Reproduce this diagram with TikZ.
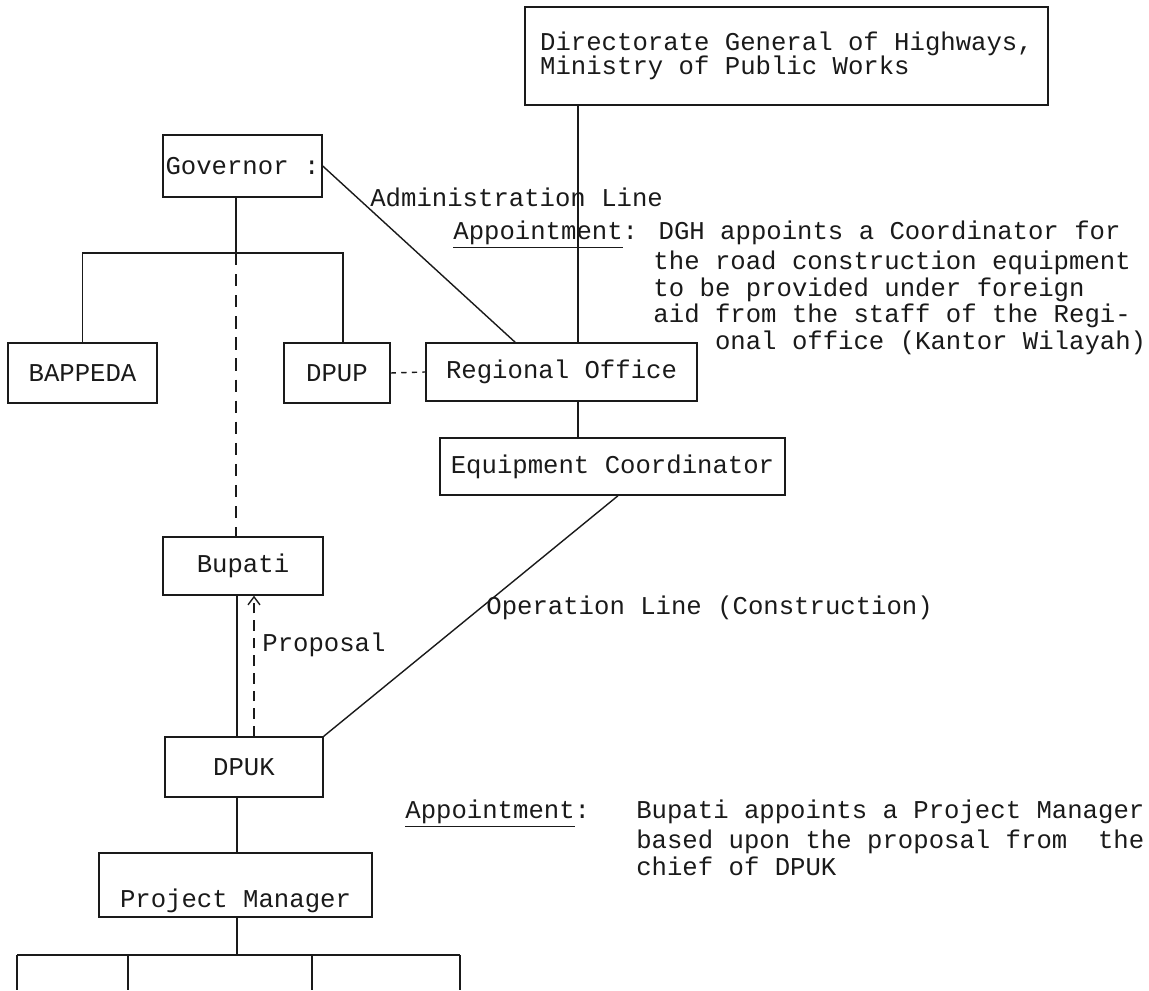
\documentclass[tikz,border=0pt]{standalone}
\usepackage{fontspec}
\newfontfamily\hwyType{Liberation Mono}
\usetikzlibrary{arrows.meta,positioning,calc}
\definecolor{hwyInk}{HTML}{1A1A1A}
\tikzset{
  hwyBox/.style={
    draw=hwyInk,
    line width=0.8pt,
    align=center,
    inner sep=2pt,
    text=hwyInk,
    font=\hwyType\fontsize{14.6}{15.3}\selectfont
  },
  hwyLine/.style={
    draw=hwyInk,
    line width=0.8pt
  },
  hwyDashed/.style={
    hwyLine,
    dash pattern=on 7pt off 5pt
  },
  hwyDotted/.style={
    hwyLine,
    dash pattern=on 3pt off 3pt
  },
  hwyArrow/.style={
    hwyLine,
    dash pattern=on 6pt off 4pt,
    -{Straight Barb[length=1.6mm,width=2.4mm]}
  },
  hwyLabel/.style={
    font=\hwyType\fontsize{14.6}{15.3}\selectfont,
    text=hwyInk,
    inner sep=0pt
  },
  hwyNote/.style={
    hwyLabel,
    align=left
  }
}

\begin{document}
\begin{tikzpicture}[x=1cm,y=1cm]
\useasboundingbox (0,0) rectangle (22.98,19.8);

% Boxes of the two hierarchies.
\node[hwyBox, align=left, minimum width=10.46cm, minimum height=1.96cm,
      font=\hwyType\fontsize{14.6}{13.7}\selectfont] (dgh) at (15.73,18.68)
  {Directorate General of Highways,\\Ministry of Public Works};

\node[hwyBox, minimum width=3.18cm, minimum height=1.24cm, inner xsep=1pt] (gov) at (4.85,16.48)
  {Governor :};
\node[hwyBox, minimum width=2.98cm, minimum height=1.2cm] (bappeda) at (1.65,12.34) {BAPPEDA};
\node[hwyBox, minimum width=2.12cm, minimum height=1.2cm] (dpup) at (6.74,12.34) {DPUP};
\node[hwyBox, minimum width=5.42cm, minimum height=1.16cm] (regoff) at (11.23,12.36)
  {Regional Office};
\node[hwyBox, minimum width=6.9cm, minimum height=1.14cm] (equip) at (12.25,10.47)
  {Equipment Coordinator};
\node[hwyBox, minimum width=3.2cm, minimum height=1.16cm] (bupati) at (4.86,8.48) {Bupati};
\node[hwyBox, minimum width=3.16cm, minimum height=1.2cm] (dpuk) at (4.88,4.46) {DPUK};
\node[hwyBox, minimum width=5.46cm, text height=0.98cm, text depth=0.1cm, inner ysep=0.1cm]
  (pm) at (4.71,2.1) {Project Manager};

% Governor branch.
\coordinate (govJ) at (4.72,14.74);
\coordinate (barR) at (6.86,14.74);
\draw[hwyLine] (gov.south -| govJ) -- (govJ);
\draw[hwyLine] (bappeda.north) -- (bappeda.north |- govJ) -- (barR) -- (barR |- dpup.north);
\draw[hwyDashed] (govJ) -- (govJ |- bupati.north);
\draw[hwyDotted] (dpup.east) -- (regoff.west);

% Ministry branch.
\coordinate (trunk) at (11.56,11.0);
\draw[hwyLine] (trunk |- dgh.south) -- (trunk |- regoff.north);
\draw[hwyLine] (trunk |- regoff.south) -- (trunk |- equip.north);
\draw[hwyLine] (gov.east) -- ($(regoff.north west)!0.33!(regoff.north east)$);
\draw[hwyLine] ($(equip.south west)!0.516!(equip.south east)$) -- (dpuk.north east);

% Kabupaten level.
\coordinate (spine) at (4.74,0);
\coordinate (prop) at (5.08,0);
\draw[hwyLine] (spine |- bupati.south) -- (spine |- dpuk.north);
\draw[hwyArrow] (prop |- dpuk.north) -- (prop |- bupati.south);
\draw[hwyLine] (spine |- dpuk.south) -- (spine |- pm.north);

\coordinate (pmBar) at (4.74,0.7);
\draw[hwyLine] (spine |- pm.south) -- (pmBar);
\foreach \x/\n in {0.34/a,2.56/b,6.24/c,9.2/d}{
  \coordinate (staff\n) at (\x,0);
  \draw[hwyLine] (staff\n |- pmBar) -- (staff\n);
}
\draw[hwyLine] (staffa |- pmBar) -- (staffd |- pmBar);

% Line labels and notes.
\node[hwyLabel, anchor=west] (adminLbl) at (7.4,15.86) {Administration Line};
\node[hwyLabel, anchor=west] (opLbl) at (9.72,7.64) {Operation Line (Construction)};
\node[hwyLabel, anchor=west] (propLbl) at (5.24,6.9) {Proposal};

\node[hwyNote, anchor=north west] (dghNote) at (9.06,15.38)
  {\underline{Appointment}: DGH appoints a Coordinator for\\
   \hspace*{7.8em}the road construction equipment\\
   \hspace*{7.8em}to be provided under foreign\\
   \hspace*{7.8em}aid from the staff of the Regi-\\
   \hspace*{10.2em}onal office (Kantor Wilayah)};

\node[hwyNote, anchor=north west] (bupNote) at (8.1,3.8)
  {\underline{Appointment}:~~~Bupati appoints a Project Manager\\
   \hspace*{9em}based upon the proposal from~ the\\
   \hspace*{9em}chief of DPUK};

\end{tikzpicture}
\end{document}
